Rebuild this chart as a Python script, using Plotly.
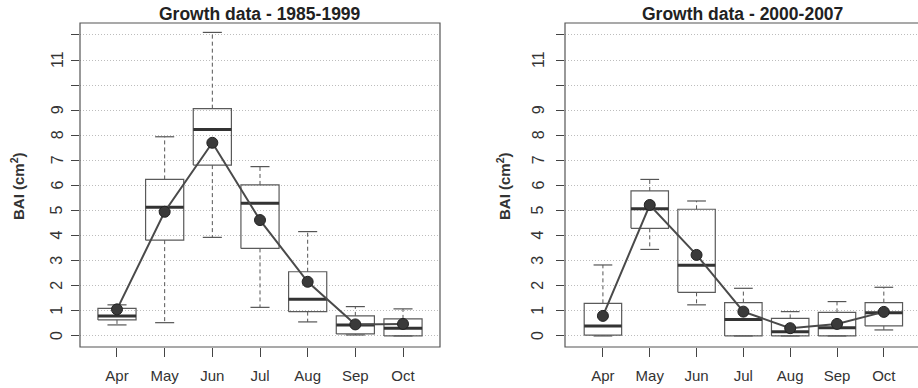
import plotly.graph_objects as go

months = ["Apr", "May", "Jun", "Jul", "Aug", "Sep", "Oct"]

# Growth data 1985-1999: box statistics and monthly means (BAI, cm^2)
low_a = [0.44, 0.53, 3.93, 1.14, 0.56, 0.04, 0.00]
q1_a = [0.64, 3.82, 6.81, 3.49, 0.97, 0.08, 0.00]
med_a = [0.80, 5.13, 8.23, 5.29, 1.46, 0.44, 0.31]
q3_a = [1.10, 6.24, 9.06, 6.02, 2.56, 0.80, 0.68]
high_a = [1.24, 7.94, 12.10, 6.75, 4.16, 1.17, 1.08]
mean_a = [1.06, 4.95, 7.70, 4.62, 2.16, 0.46, 0.48]

# Growth data 2000-2007
low_b = [0.00, 3.45, 1.24, 0.00, 0.00, 0.00, 0.24]
q1_b = [0.03, 4.29, 1.74, 0.00, 0.00, 0.00, 0.40]
med_b = [0.40, 5.07, 2.82, 0.66, 0.17, 0.33, 0.93]
q3_b = [1.30, 5.78, 5.05, 1.33, 0.70, 0.94, 1.33]
high_b = [2.83, 6.24, 5.38, 1.90, 0.97, 1.37, 1.94]
mean_b = [0.80, 5.22, 3.23, 0.97, 0.31, 0.48, 0.96]

titles = ["Growth data - 1985-1999", "Growth data - 2000-2007"]
y_ticks = list(range(13))
y_labels = [0, 1, 2, 3, 4, 5, 6, 7, 8, 9, 11]

W, H = 918, 388
FONT = "Liberation Sans, Arial, sans-serif"
BOX_HALF = 0.4
CAP_HALF = 0.2

fig = go.Figure()


def add_panel(xref, yref, low, q1, med, q3, high, mean):
    pos = list(range(len(months)))
    bx, by, mx, my, wx, wy, cx, cy = [], [], [], [], [], [], [], []
    for i in pos:
        bx += [i - BOX_HALF, i + BOX_HALF, i + BOX_HALF, i - BOX_HALF, i - BOX_HALF, None]
        by += [q1[i], q1[i], q3[i], q3[i], q1[i], None]
        mx += [i - BOX_HALF, i + BOX_HALF, None]
        my += [med[i], med[i], None]
        wx += [i, i, None, i, i, None]
        wy += [q3[i], high[i], None, q1[i], low[i], None]
        cx += [i - CAP_HALF, i + CAP_HALF, None, i - CAP_HALF, i + CAP_HALF, None]
        cy += [high[i], high[i], None, low[i], low[i], None]
    common = dict(xaxis=xref, yaxis=yref, mode="lines", hoverinfo="skip", showlegend=False)
    fig.add_trace(go.Scatter(x=wx, y=wy, line=dict(color="#555555", width=1, dash="4px,3px"), **common))
    fig.add_trace(go.Scatter(x=cx, y=cy, line=dict(color="#555555", width=1.2), **common))
    fig.add_trace(go.Scatter(x=bx, y=by, line=dict(color="#5a5a5a", width=1.2), **common))
    fig.add_trace(go.Scatter(x=mx, y=my, line=dict(color="#333333", width=3), **common))
    fig.add_trace(go.Scatter(
        x=pos, y=mean, xaxis=xref, yaxis=yref, mode="lines+markers",
        line=dict(color="#4a4a4a", width=2),
        marker=dict(size=11, color="#3a3a3a", line=dict(color="#222222", width=1)),
        showlegend=False, hoverinfo="skip"))


add_panel("x", "y", low_a, q1_a, med_a, q3_a, high_a, mean_a)
add_panel("x2", "y2", low_b, q1_b, med_b, q3_b, high_b, mean_b)

y_dom = [1 - 347 / H, 1 - 23 / H]
y_range = [-0.44, 12.475]
panels = [
    dict(dom=[80 / W, 440 / W], xr=[-0.776, 6.776], lab_x=57, title_x=17),
    dict(dom=[565 / W, 1.0], xr=[-0.81, 6.73], lab_x=538, title_x=503),
]

axis_font = dict(family=FONT, size=15, color="#333333")
ylab_font = dict(family=FONT, size=16, color="#333333")
layout = dict(
    width=W, height=H,
    margin=dict(l=0, r=0, t=0, b=0),
    paper_bgcolor="white", plot_bgcolor="white",
    font=dict(family=FONT, color="#333333"),
    showlegend=False,
)
for k, p in enumerate(panels):
    sx = "" if k == 0 else "2"
    layout["xaxis" + sx] = dict(
        domain=p["dom"], range=p["xr"], anchor="y" + sx,
        tickmode="array", tickvals=list(range(len(months))), ticktext=months,
        ticks="outside", ticklen=9, tickcolor="#444444", tickwidth=1,
        ticklabelstandoff=6, tickfont=axis_font,
        showgrid=False, zeroline=False, showline=False,
    )
    layout["yaxis" + sx] = dict(
        domain=y_dom, range=y_range, anchor="x" + sx,
        tickmode="array", tickvals=y_ticks, showticklabels=False,
        ticks="outside", ticklen=8, tickcolor="#444444", tickwidth=1,
        showgrid=True, gridcolor="#bdbdbd", griddash="1px,2px", gridwidth=1,
        zeroline=False, showline=False,
    )

shapes = []
annotations = []
for k, p in enumerate(panels):
    sx = "" if k == 0 else "2"
    x1 = p["dom"][1] if k == 0 else 921 / W
    shapes.append(dict(type="rect", xref="paper", yref="paper",
                       x0=p["dom"][0], x1=x1, y0=y_dom[0], y1=y_dom[1],
                       line=dict(color="#555555", width=1.2), fillcolor="rgba(0,0,0,0)"))
    cx = (p["dom"][0] + x1) / 2
    annotations.append(dict(text="<b>" + titles[k] + "</b>", xref="paper", yref="paper",
                            x=cx, y=1 - 14 / H, showarrow=False,
                            font=dict(family=FONT, size=17.5, color="#222222"),
                            xanchor="center", yanchor="middle"))
    annotations.append(dict(text="<b>BAI (cm<sup>2</sup>)</b>", xref="paper", yref="paper",
                            x=p["title_x"] / W, y=1 - 186 / H, textangle=-90,
                            showarrow=False, font=dict(family=FONT, size=15, color="#333333"),
                            xanchor="center", yanchor="middle"))
    # rotated y tick labels, R style (parallel to the axis)
    for v in y_labels:
        annotations.append(dict(text=str(v), xref="paper", yref="y" + sx,
                                x=p["lab_x"] / W, y=v, textangle=-90, showarrow=False,
                                font=ylab_font, xanchor="center", yanchor="middle"))
layout["shapes"] = shapes
layout["annotations"] = annotations

fig.update_layout(**layout)
fig.write_html("out.html")
